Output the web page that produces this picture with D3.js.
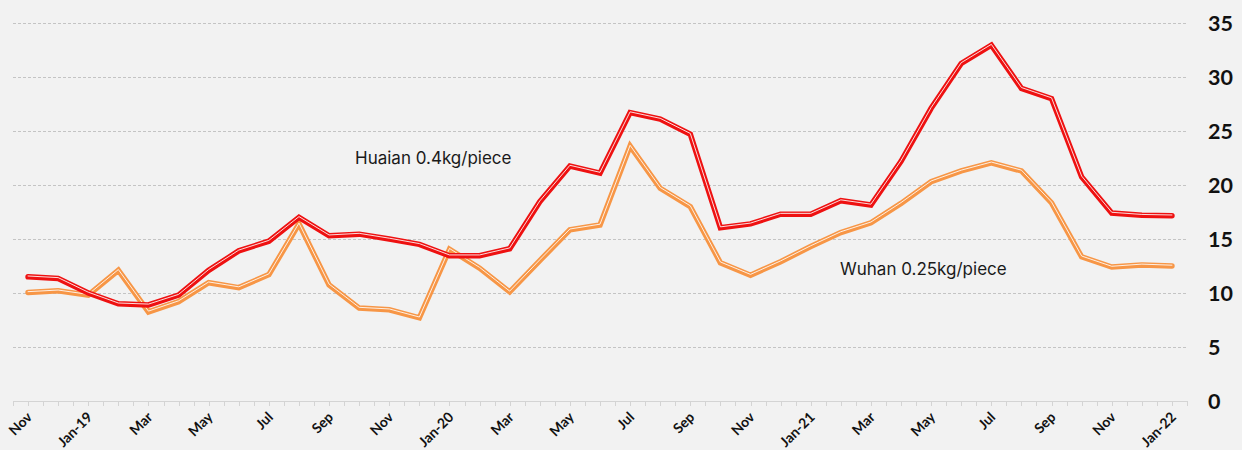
<!DOCTYPE html>
<html>
<head>
<meta charset="utf-8">
<script src="https://cdn.jsdelivr.net/npm/d3@7"></script>
<style>
  html, body { margin: 0; padding: 0; background: #f2f2f2; }
  svg { display: block; }
</style>
</head>
<body>
<div id="chart"></div>
<script>
const months = ["Nov-18","Dec-18","Jan-19","Feb-19","Mar-19","Apr-19","May-19","Jun-19","Jul-19","Aug-19","Sep-19","Oct-19","Nov-19","Dec-19",
  "Jan-20","Feb-20","Mar-20","Apr-20","May-20","Jun-20","Jul-20","Aug-20","Sep-20","Oct-20","Nov-20","Dec-20",
  "Jan-21","Feb-21","Mar-21","Apr-21","May-21","Jun-21","Jul-21","Aug-21","Sep-21","Oct-21","Nov-21","Dec-21","Jan-22"];
const tickLabels = ["Nov","","Jan-19","","Mar","","May","","Jul","","Sep","","Nov","",
  "Jan-20","","Mar","","May","","Jul","","Sep","","Nov","",
  "Jan-21","","Mar","","May","","Jul","","Sep","","Nov","","Jan-22"];
const huaian = [11.5,11.35,10.0,9.0,8.9,9.8,12.1,13.9,14.8,17.0,15.3,15.45,15.0,14.5,
  13.45,13.45,14.1,18.45,21.75,21.1,26.7,26.1,24.7,16.05,16.4,17.3,
  17.3,18.55,18.15,22.2,27.1,31.25,32.95,28.95,28.0,20.75,17.4,17.2,17.15];
const wuhan = [10.05,10.2,9.8,12.1,8.25,9.2,10.95,10.5,11.7,16.4,10.75,8.6,8.45,7.7,
  14.05,12.3,10.1,13.0,15.85,16.3,23.6,19.7,18.0,12.8,11.65,12.9,
  14.3,15.6,16.5,18.3,20.3,21.3,22.05,21.3,18.35,13.35,12.4,12.6,12.5];
const yTicks = [0,5,10,15,20,25,30,35];
const seriesNames = ["Huaian 0.4kg/piece","Wuhan 0.25kg/piece"];

const W = 1242, H = 450;
const pLeft = 13, pRight = 1187, pTop = 23, pBottom = 401;

const svg = d3.select("#chart").append("svg").attr("width", W).attr("height", H);
svg.append("rect").attr("width", W).attr("height", H).attr("fill", "#f2f2f2");

const x = d3.scaleBand().domain(months).range([pLeft, pRight]).padding(0);
const y = d3.scaleLinear().domain([0, 35]).range([pBottom, pTop]);
const cx = m => x(m) + x.bandwidth() / 2;

// gridlines
svg.append("g").selectAll("line").data(yTicks.filter(d => d > 0)).join("line")
  .attr("x1", pLeft).attr("x2", pRight)
  .attr("y1", d => Math.round(y(d)) + 0.5).attr("y2", d => Math.round(y(d)) + 0.5)
  .attr("stroke", "#c4c4c4").attr("stroke-width", 1).attr("stroke-dasharray", "3,2");

// x axis line and ticks (half-month)
const axisG = svg.append("g");
axisG.append("line").attr("x1", pLeft).attr("x2", pRight).attr("y1", pBottom + 0.5).attr("y2", pBottom + 0.5)
  .attr("stroke", "#d4d4d4").attr("stroke-width", 1);
const tickPos = [];
months.forEach(m => { tickPos.push(x(m)); tickPos.push(cx(m)); });
tickPos.push(pRight);
axisG.selectAll("line.tk").data(tickPos).join("line").attr("class", "tk")
  .attr("x1", d => Math.round(d) + 0.5).attr("x2", d => Math.round(d) + 0.5)
  .attr("y1", pBottom).attr("y2", pBottom + 5)
  .attr("stroke", "#d4d4d4").attr("stroke-width", 1);

// x labels
svg.append("g").selectAll("text").data(months.map((m, i) => ({m, t: tickLabels[i]})).filter(d => d.t)).join("text")
  .attr("transform", d => `translate(${cx(d.m) + 5},${pBottom + 17}) rotate(-45)`)
  .attr("text-anchor", "end")
  .attr("font-family", "Lato, 'Open Sans', sans-serif")
  .attr("font-weight", "bold").attr("font-size", 14).attr("fill", "#111")
  .text(d => d.t);

// y labels on right
svg.append("g").selectAll("text").data(yTicks).join("text")
  .attr("x", 1208).attr("y", d => y(d)).attr("dy", "0.36em")
  .attr("font-family", "Lato, 'Open Sans', sans-serif")
  .attr("font-weight", "bold").attr("font-size", 21.5).attr("fill", "#111")
  .text(d => d);

// lines
const line = d3.line().x((d, i) => cx(months[i])).y(d => y(d));
function drawSeries(data, color) {
  const g = svg.append("g");
  g.append("path").datum(data).attr("d", line).attr("fill", "none")
    .attr("stroke", color).attr("stroke-width", 5.5)
    .attr("stroke-linejoin", "miter").attr("stroke-linecap", "round");
  g.append("path").datum(data).attr("d", line).attr("fill", "none")
    .attr("stroke", "#ffffff").attr("stroke-width", 1).attr("stroke-opacity", 0.85)
    .attr("transform", "translate(0,-0.8)")
    .attr("stroke-linejoin", "miter").attr("stroke-linecap", "round");
}
drawSeries(wuhan, "#f79646");
drawSeries(huaian, "#ee1111");

// annotations
svg.append("text").attr("x", 355).attr("y", 164)
  .attr("font-family", "Inter, 'Open Sans', sans-serif").attr("font-size", 17).attr("fill", "#1a1a1a")
  .text(seriesNames[0]);
svg.append("text").attr("x", 840).attr("y", 275)
  .attr("font-family", "Inter, 'Open Sans', sans-serif").attr("font-size", 17).attr("fill", "#1a1a1a")
  .text(seriesNames[1]);
</script>
</body>
</html>
